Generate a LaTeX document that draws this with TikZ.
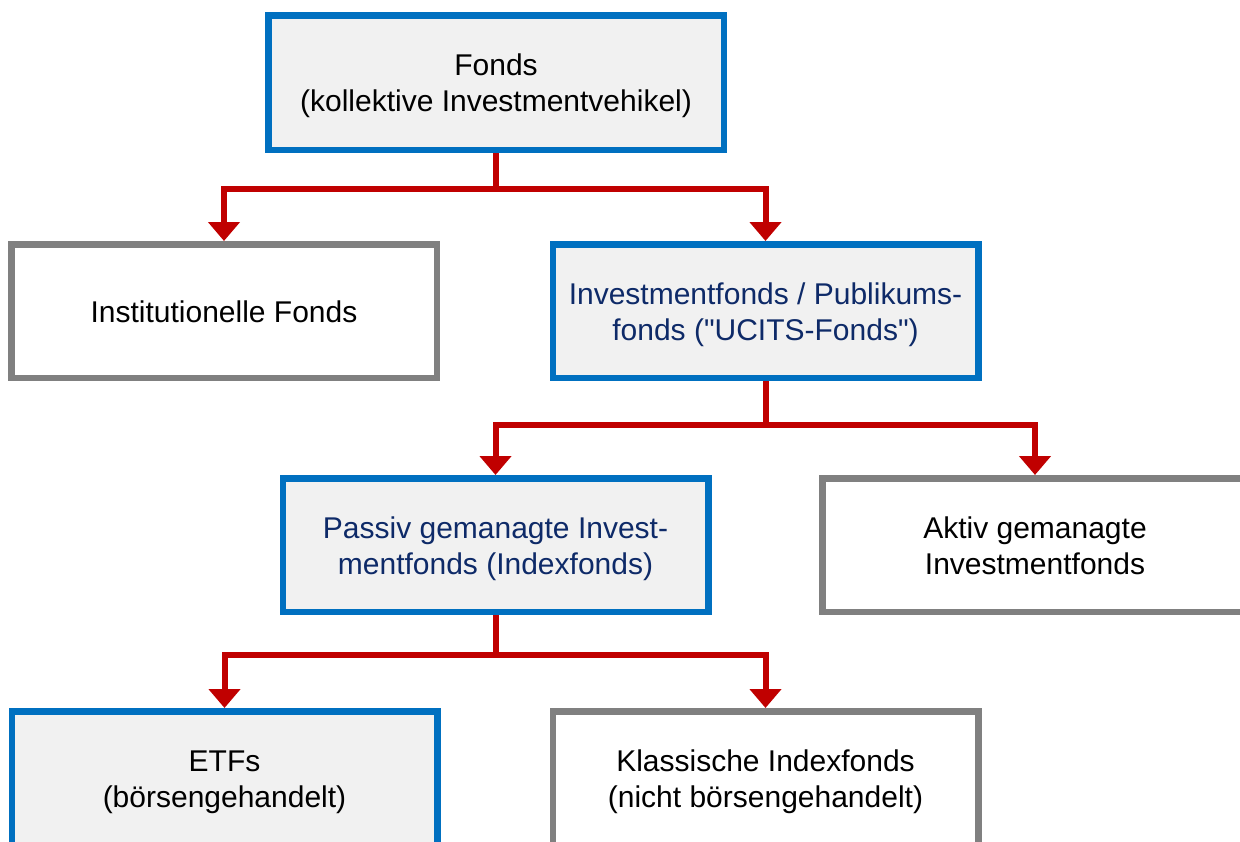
\documentclass[tikz,border=0pt]{standalone}
\usepackage{fontspec}
\setmainfont{Liberation Sans}[Ligatures=TeXOff]
\usetikzlibrary{arrows.meta}
\definecolor{boxblue}{HTML}{0070C0}
\definecolor{boxgray}{HTML}{808080}
\definecolor{linered}{HTML}{C00000}
\definecolor{fillgray}{HTML}{F1F1F1}
\definecolor{textblue}{HTML}{0E2A68}
\newcommand\bxtext[1]{\raisebox{-4pt}[\height][\depth]{\begin{tabular}{@{}c@{}}#1\end{tabular}}}
\tikzset{
  base/.style={draw, line width=6.5pt, rectangle, align=center, inner sep=0pt,
    minimum width=425.5pt, minimum height=133.5pt, font=\fontsize{30}{36}\selectfont},
  bluebox/.style={base, draw=boxblue, fill=fillgray},
  graybox/.style={base, draw=boxgray, fill=white},
  conn/.style={draw=linered, line width=6pt, line join=miter,
    -{Triangle[width=31pt,length=19pt]}, fill=none}
}
\begin{document}
\begin{tikzpicture}[x=1pt,y=1pt]
\useasboundingbox (0,0) rectangle (1240,-841);
\clip (0,0) rectangle (1240,-841);
\node[bluebox, minimum width=455.5pt, minimum height=134.5pt] (fonds) at (496,-82.5) {\bxtext{Fonds\\(kollektive Investmentvehikel)}};
\node[graybox] (inst) at (224,-311) {\bxtext{Institutionelle Fonds}};
\node[bluebox, text=textblue] (invest) at (765.5,-311) {\bxtext{Investmentfonds / Publikums-\\fonds ("UCITS-Fonds")}};
\node[bluebox, text=textblue] (passiv) at (495.5,-545) {\bxtext{Passiv gemanagte Invest-\\mentfonds (Indexfonds)}};
\node[graybox] (aktiv) at (1035,-545) {\bxtext{Aktiv gemanagte\\Investmentfonds}};
\node[bluebox] (etf) at (224.5,-778) {\bxtext{ETFs\\(börsengehandelt)}};
\node[graybox] (klass) at (765.5,-778) {\bxtext{Klassische Indexfonds\\(nicht börsengehandelt)}};
\draw[conn] (fonds.south) -- ++(0,-36) -| (inst.north);
\draw[conn] (fonds.south) -- ++(0,-36) -| (invest.north);
\draw[conn] (invest.south) -- ++(0,-44) -| (passiv.north);
\draw[conn] (invest.south) -- ++(0,-44) -| (aktiv.north);
\draw[conn] (passiv.south) -- ++(0,-40) -| (etf.north);
\draw[conn] (passiv.south) -- ++(0,-40) -| (klass.north);
\end{tikzpicture}
\end{document}
